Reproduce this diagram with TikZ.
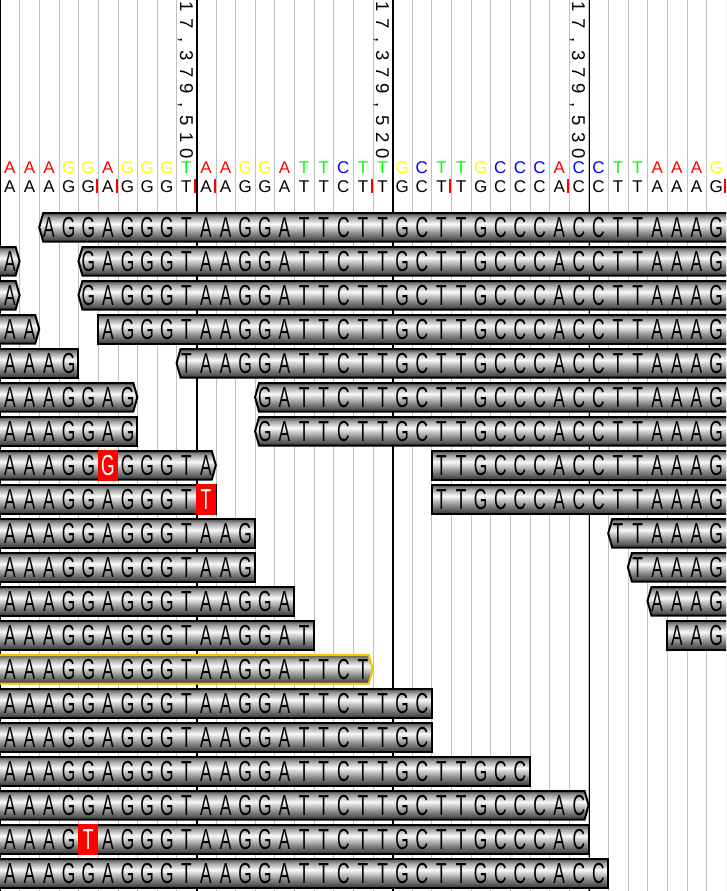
\documentclass[tikz,border=0pt]{standalone}
\usepackage{fontspec}
\IfFontExistsTF{FiraSans-Light.otf}{%
  \newfontfamily\lightf{FiraSans-Light.otf}
  \newfontfamily\barf{FiraSans-Light.otf}[FakeStretch=0.6]
}{%
  \newfontfamily\lightf{Liberation Sans}
  \newfontfamily\barf{Liberation Sans}[FakeStretch=0.6]
}
\definecolor{gridgray}{RGB}{192,192,192}
\definecolor{colA}{RGB}{255,0,0}
\definecolor{colG}{RGB}{255,255,0}
\definecolor{colT}{RGB}{0,255,0}
\definecolor{colC}{RGB}{0,0,255}
\definecolor{selorange}{RGB}{255,192,0}
\definecolor{misred}{RGB}{255,0,0}
\pgfdeclareverticalshading{readbar}{100bp}{color(0bp)=(black!78); color(25bp)=(black!78); color(40bp)=(black!45); color(56bp)=(black!2); color(68bp)=(black!38); color(75bp)=(black!68); color(100bp)=(black!68)}
\newcount\seqi
\makeatletter
\def\forchars#1#2{\def\fc@body{#1}\fc@loop#2\fc@end}
\def\fc@loop#1{\ifx#1\fc@end\else\def\thech{#1}\fc@body\advance\seqi by 1\relax\expandafter\fc@loop\fi}
\makeatother
\def\cw{19.62}
% bar end pieces
\def\lkf{(\xl,\yb) -- (\xl,\yt)}
\def\lkp{({\xl+4},\yb) -- (\xl,\ym) -- ({\xl+4},\yt)}
\def\lko{(-10,\yb) -- (-10,\yt)}
\def\rkf{(\xr,\yt) -- (\xr,\yb)}
\def\rkp{({\xr-4},\yt) -- (\xr,\ym) -- ({\xr-4},\yb)}
\def\rko{(740,\yt) -- (740,\yb)}
\newcommand\readbar[6][black]{%
  \pgfmathsetmacro\yt{212+34*(#2-1)+1}%
  \pgfmathsetmacro\yb{\yt+28.5}%
  \pgfmathsetmacro\ym{\yt+14.25}%
  \pgfmathsetmacro\xl{(#3-1)*\cw}%
  \pgfmathsetmacro\xr{#4*\cw}%
  \expandafter\let\expandafter\Lpart\csname lk#5\endcsname
  \expandafter\let\expandafter\Rpart\csname rk#6\endcsname
  \path[barsty, draw=#1] \Lpart -- \Rpart -- cycle;
}
\newcommand\seqrow[3]{%
  \seqi=#2\relax
  \def\currow{#1}%
  \forchars{\node[bl] (L-\currow-\the\seqi) at ({(\the\seqi-0.5)*\cw},{212+34*(\currow-1)+15.25+10}) {\thech};}{#3}%
}
\newcommand\mism[3]{%
  \pgfmathsetmacro\yt{212+34*(#1-1)}%
  \fill[misred] ({(#2-1)*\cw},\yt) rectangle ({#2*\cw},{\yt+30.5});
  \node[bl, text=white] (M-#1-#2) at ({(#2-0.5)*\cw},{\yt+15.25+10}) {#3};
}
\newcommand\poslabel[2]{%
  \seqi=0\relax
  \def\labx{#1}%
  \forchars{\node[lab] (P-#1-\the\seqi) at (\labx,{7+16.3*\the\seqi}) {\thech};}{#2}%
}
\begin{document}
\begin{tikzpicture}[x=1pt,y=-1pt,
  barsty/.style={shade, shading=readbar, line width=2pt, line join=miter},
  bl/.style={font=\barf\fontsize{29}{29}\selectfont, inner sep=0pt, anchor=base, text=black},
  hd/.style={font=\lightf\fontsize{17}{17}\selectfont, inner sep=0pt, anchor=base},
  lab/.style={font=\lightf\fontsize{18.5}{18.5}\selectfont, inner sep=0pt, anchor=base, rotate=-90},
  insmark/.style={misred, line width=2pt}]
\useasboundingbox (0,0) rectangle (726,891);
\clip (0,0) rectangle (726,891);
\fill[white] (0,0) rectangle (726,891);
% grid
\foreach \k in {1,...,37} { \draw[gridgray, line width=1pt] ({\k*\cw+0.3},0) -- ({\k*\cw+0.3},891); }
\foreach \k in {0,10,20,30} { \draw[black, line width=1.4pt] ({\k*\cw+0.7},0) -- ({\k*\cw+0.7},891); }
% position labels
\poslabel{180}{17,379,510}
\poslabel{376}{17,379,520}
\poslabel{572}{17,379,530}
% reference row (coloured)
\seqi=1\relax
\forchars{\node[hd, text=col\thech] (H-\the\seqi) at ({(\the\seqi-0.5)*\cw},173.3) {\thech};}{AAAGGAGGGTAAGGATTCTTGCTTGCCCACCTTAAAG}
% consensus row
\seqi=1\relax
\forchars{\node[hd, text=black] (C-\the\seqi) at ({(\the\seqi-0.5)*\cw},192.3) {\thech};}{AAAGGAGGGTAAGGATTCTTGCTTGCCCACCTTAAAG}
\foreach \k in {5,6,10,11,19,23,29,37} { \draw[insmark] ({\k*\cw-0.8},179) -- ({\k*\cw-0.8},193); }
% reads
\readbar{1}{3}{37}{p}{o}        \seqrow{1}{3}{AGGAGGGTAAGGATTCTTGCTTGCCCACCTTAAAG}
\readbar{2}{1}{1}{o}{p}         \seqrow{2}{1}{A}
\readbar{2}{5}{37}{p}{o}        \seqrow{2}{5}{GAGGGTAAGGATTCTTGCTTGCCCACCTTAAAG}
\readbar{3}{1}{1}{o}{p}         \seqrow{3}{1}{A}
\readbar{3}{5}{37}{p}{o}        \seqrow{3}{5}{GAGGGTAAGGATTCTTGCTTGCCCACCTTAAAG}
\readbar{4}{1}{2}{o}{p}         \seqrow{4}{1}{AA}
\readbar{4}{6}{37}{f}{o}        \seqrow{4}{6}{AGGGTAAGGATTCTTGCTTGCCCACCTTAAAG}
\readbar{5}{1}{4}{o}{f}         \seqrow{5}{1}{AAAG}
\readbar{5}{10}{37}{p}{o}       \seqrow{5}{10}{TAAGGATTCTTGCTTGCCCACCTTAAAG}
\readbar{6}{1}{7}{o}{p}         \seqrow{6}{1}{AAAGGAG}
\readbar{6}{14}{37}{p}{o}       \seqrow{6}{14}{GATTCTTGCTTGCCCACCTTAAAG}
\readbar{7}{1}{7}{o}{f}         \seqrow{7}{1}{AAAGGAG}
\readbar{7}{14}{37}{p}{o}       \seqrow{7}{14}{GATTCTTGCTTGCCCACCTTAAAG}
\readbar{8}{1}{11}{o}{p}        \seqrow{8}{1}{AAAGG}\seqrow{8}{7}{GGGTA}
\mism{8}{6}{G}
\readbar{8}{23}{37}{f}{o}       \seqrow{8}{23}{TTGCCCACCTTAAAG}
\readbar{9}{1}{11}{o}{f}        \seqrow{9}{1}{AAAGGAGGGT}
\mism{9}{11}{T}
\readbar{9}{23}{37}{f}{o}       \seqrow{9}{23}{TTGCCCACCTTAAAG}
\readbar{10}{1}{13}{o}{f}       \seqrow{10}{1}{AAAGGAGGGTAAG}
\readbar{10}{32}{37}{p}{o}      \seqrow{10}{32}{TTAAAG}
\readbar{11}{1}{13}{o}{f}       \seqrow{11}{1}{AAAGGAGGGTAAG}
\readbar{11}{33}{37}{p}{o}      \seqrow{11}{33}{TAAAG}
\readbar{12}{1}{15}{o}{f}       \seqrow{12}{1}{AAAGGAGGGTAAGGA}
\readbar{12}{34}{37}{p}{o}      \seqrow{12}{34}{AAAG}
\readbar{13}{1}{16}{o}{f}       \seqrow{13}{1}{AAAGGAGGGTAAGGAT}
\readbar{13}{35}{37}{f}{o}      \seqrow{13}{35}{AAG}
\readbar[selorange]{14}{1}{19}{o}{p} \seqrow{14}{1}{AAAGGAGGGTAAGGATTCT}
\readbar{15}{1}{22}{o}{f}       \seqrow{15}{1}{AAAGGAGGGTAAGGATTCTTGC}
\readbar{16}{1}{22}{o}{f}       \seqrow{16}{1}{AAAGGAGGGTAAGGATTCTTGC}
\readbar{17}{1}{27}{o}{f}       \seqrow{17}{1}{AAAGGAGGGTAAGGATTCTTGCTTGCC}
\readbar{18}{1}{30}{o}{p}       \seqrow{18}{1}{AAAGGAGGGTAAGGATTCTTGCTTGCCCAC}
\readbar{19}{1}{30}{o}{f}       \seqrow{19}{1}{AAAG}\seqrow{19}{6}{AGGGTAAGGATTCTTGCTTGCCCAC}
\mism{19}{5}{T}
\readbar{20}{1}{31}{o}{f}       \seqrow{20}{1}{AAAGGAGGGTAAGGATTCTTGCTTGCCCACC}
\end{tikzpicture}
\end{document}
